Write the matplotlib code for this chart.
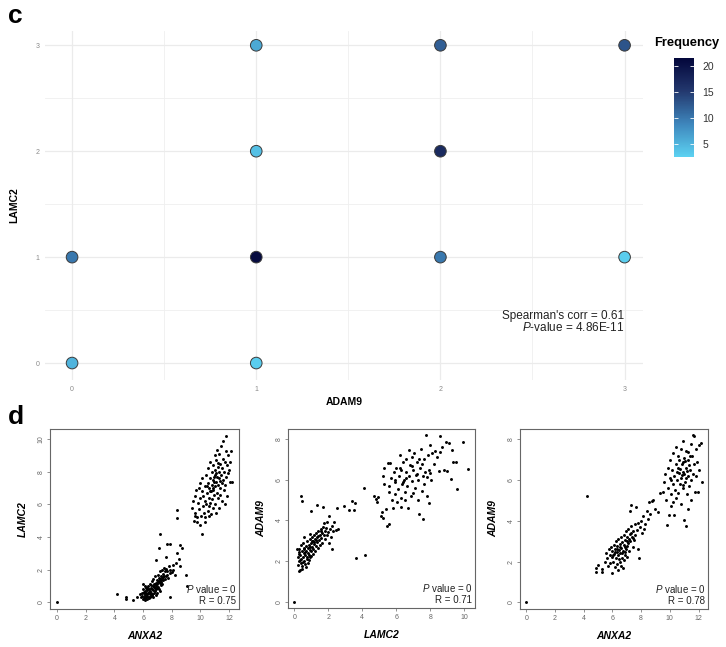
import numpy as np
import matplotlib
matplotlib.use('Agg')
import matplotlib.pyplot as plt
from matplotlib.colors import LinearSegmentedColormap, Normalize
from matplotlib.cm import ScalarMappable

plt.rcParams['font.family'] = ['Liberation Sans', 'DejaVu Sans']
plt.rcParams['mathtext.fontset'] = 'custom'
plt.rcParams['mathtext.rm'] = 'Liberation Sans'
plt.rcParams['mathtext.it'] = 'Liberation Sans:italic'

# ---------------- panel c data ----------------
adam9_score = [0, 0, 1, 1, 1, 1, 2, 2, 2, 3, 3]
lamc2_score = [0, 1, 0, 1, 2, 3, 1, 2, 3, 1, 3]
frequency   = [5, 10, 3, 21, 4, 6, 10, 17, 12, 3, 13]
c_ticks = [0, 1, 2, 3]
cbar_ticks = [5, 10, 15, 20]
spearman_text = "Spearman's corr = 0.61"
pvalue_text = r"$\mathit{P}$-value = 4.86E-11"

# ---------------- panel d data ----------------
# d1: ANXA2 (x) vs LAMC2 (y)
d1_upper = [(9.45,5.8),(9.5,6.2),(9.55,5.0),(9.6,6.5),(9.65,5.5),(9.7,6.9),(9.75,5.2),(9.8,4.9),
            (9.82,6.1),(9.88,7.0),(9.9,5.7),(9.95,4.75),(10.0,6.4),(10.0,7.3),(10.05,5.3),(10.1,6.8),
            (10.12,4.2),(10.15,7.6),(10.2,5.9),(10.22,6.5),(10.25,5.5),(10.3,7.1),(10.32,4.9),(10.35,6.2),
            (10.4,7.8),(10.42,6.0),(10.45,6.7),(10.5,5.6),(10.5,7.3),(10.55,8.2),(10.58,6.4),(10.6,5.9),
            (10.62,7.0),(10.65,6.1),(10.7,7.6),(10.7,8.6),(10.72,5.4),(10.75,6.8),(10.78,7.2),(10.8,6.3),
            (10.8,8.0),(10.85,7.5),(10.88,5.8),(10.9,6.9),(10.9,8.4),(10.92,7.7),(10.95,6.6),(11.0,7.1),
            (11.0,9.0),(11.02,8.1),(11.05,6.0),(11.08,7.4),(11.1,5.5),(11.1,8.7),(11.12,7.9),(11.15,6.7),
            (11.18,9.35),(11.2,7.2),(11.22,8.3),(11.25,6.4),(11.28,7.6),(11.3,8.0),(11.3,5.8),(11.32,9.1),
            (11.35,7.0),(11.38,8.5),(11.4,6.6),(11.42,7.8),(11.45,9.6),(11.48,7.3),(11.5,8.2),(11.52,6.2),
            (11.55,8.8),(11.58,7.5),(11.6,9.9),(11.62,6.9),(11.65,8.0),(11.7,7.2),(11.72,8.6),(11.76,10.2),
            (11.8,7.7),(11.82,9.3),(11.85,6.5),(11.88,8.4),(11.9,7.9),(11.95,9.0),(12.0,8.1),(12.05,7.4),
            (12.1,8.6),(12.15,9.25),(12.2,7.35),(11.7,6.0),(10.3,5.2),(10.6,5.3),(9.6,5.3),(10.95,7.35),
            (11.15,7.65),(10.85,7.0),(11.05,7.8),(11.35,7.45),(10.65,6.85),(11.25,8.55),(10.45,7.15)]
d1_lower = [(5.8,0.5),(5.85,0.3),(5.9,0.6),(5.95,0.4),(6.0,0.2),(6.0,0.8),(6.02,1.1),(6.05,0.35),
            (6.08,0.55),(6.1,0.25),(6.12,0.7),(6.15,0.45),(6.18,0.3),(6.2,0.9),(6.22,0.6),(6.25,0.4),
            (6.28,0.75),(6.3,0.2),(6.32,0.55),(6.35,1.0),(6.38,0.65),(6.4,0.35),(6.42,0.8),(6.45,0.5),
            (6.48,1.15),(6.5,0.7),(6.52,0.4),(6.55,0.9),(6.58,0.6),(6.6,1.3),(6.62,0.8),(6.65,0.5),
            (6.68,1.0),(6.7,0.75),(6.72,1.4),(6.75,0.6),(6.78,1.1),(6.8,0.9),(6.82,1.6),(6.85,0.7),
            (6.88,1.2),(6.9,1.0),(6.92,0.45),(6.95,1.35),(6.98,0.85),(7.0,1.1),(7.02,1.7),(7.05,0.95),
            (7.08,1.3),(7.1,1.5),(7.12,0.8),(7.15,1.2),(7.18,1.9),(7.2,1.4),(7.22,1.05),(7.25,1.6),
            (7.28,1.25),(7.3,2.0),(7.32,1.5),(7.35,1.1),(7.38,1.75),(7.4,1.35),(7.45,2.1),(7.48,1.6),
            (7.5,1.9),(7.55,1.45),(7.6,2.05),(7.65,1.7),(7.7,1.9),(7.75,1.5),(7.8,2.2),(7.85,1.8),
            (7.9,1.95),(8.0,1.85),(8.1,2.0),(8.2,1.7),(6.1,1.0),(6.3,0.5),(6.5,0.3),(6.7,0.35),
            (6.95,0.6),(7.15,0.7),(6.05,0.65),(6.25,0.85),(6.45,0.6),(6.6,0.45),(6.75,0.95),(6.85,1.15),
            (7.05,1.25),(7.25,1.35),(6.15,0.15),(6.4,0.25),(6.55,1.05),(6.9,0.8),(7.4,1.55),(7.6,1.6)]
d1_outliers = [(0,0),(4.2,0.5),(4.8,0.2),(4.8,0.3),(5.3,0.15),(5.6,0.35),(6.9,2.6),(7.1,3.3),
               (7.2,4.2),(7.6,2.8),(7.7,3.6),(7.9,3.55),(8.4,3.0),(8.55,3.5),(8.7,3.35),(8.4,5.65),
               (8.4,5.15),(8.3,2.4),(8.5,2.65),(8.55,2.2),(7.85,0.3),(9.0,1.7),(9.1,1.0),(8.1,2.3)]

# d2: LAMC2 (x) vs ADAM9 (y)
d2_lower = [(0.2,1.8),(0.22,2.2),(0.25,1.5),(0.28,2.6),(0.3,2.0),(0.32,1.55),(0.35,2.3),(0.38,1.9),
            (0.4,2.8),(0.42,2.1),(0.45,2.5),(0.48,1.75),(0.5,2.2),(0.52,2.9),(0.55,2.4),(0.58,2.0),
            (0.6,2.6),(0.62,1.85),(0.65,2.3),(0.68,2.75),(0.7,2.5),(0.72,2.1),(0.75,3.0),(0.78,2.4),
            (0.8,2.65),(0.82,1.9),(0.85,2.8),(0.88,2.3),(0.9,3.1),(0.92,2.55),(0.95,2.2),(0.98,2.9),
            (1.0,2.5),(1.02,3.2),(1.05,2.7),(1.08,2.35),(1.1,3.0),(1.12,2.6),(1.15,3.3),(1.18,2.85),
            (1.2,2.5),(1.22,3.1),(1.25,2.75),(1.3,3.4),(1.32,2.95),(1.35,3.2),(1.4,2.65),(1.42,3.5),
            (1.45,3.05),(1.5,3.3),(1.52,2.8),(1.55,3.6),(1.6,3.15),(1.62,3.4),(1.65,2.9),(1.7,3.7),
            (1.72,3.3),(1.75,3.85),(1.8,3.5),(1.82,3.1),(1.85,3.65),(1.9,3.3),(1.95,3.9),(2.0,3.45),
            (2.02,2.9),(2.05,4.2),(2.1,3.6),(2.15,3.2),(2.2,3.75),(2.3,3.5),(2.35,3.9),(2.45,3.55),
            (0.3,2.45),(0.6,3.2),(0.15,2.6),(0.45,1.6),(0.7,1.7),(0.55,2.65),(0.85,2.05),(1.0,2.25),
            (0.35,2.05),(0.65,2.45),(0.9,2.7),(1.15,2.95),(1.3,3.05),(0.5,1.95),(0.75,2.2),(1.05,3.0),
            (0.25,2.35),(0.95,3.35),(1.4,3.25),(1.6,3.5)]
d2_outliers = [(0,0),(0.4,5.2),(0.45,4.95),(1.0,4.45),(1.35,4.75),(1.7,4.65),(2.5,4.6),(2.95,4.7),
               (3.4,4.95),(3.5,4.5),(3.55,4.85),(3.2,4.5),(3.65,2.15),(4.15,2.3),(4.1,5.6),(4.7,5.2),
               (4.8,5.05),(4.85,4.9),(4.9,5.15),(2.6,3.6),(2.2,2.6)]
d2_upper = [(5.1,4.2),(5.15,4.4),(5.2,4.1),(5.2,6.2),(5.3,5.8),(5.3,6.6),(5.4,4.55),(5.45,3.75),
            (5.5,6.85),(5.55,5.4),(5.6,3.8),(5.6,5.7),(5.65,6.85),(5.7,6.1),(5.75,5.0),(5.8,4.6),
            (5.85,6.4),(5.9,5.3),(5.95,5.9),(6.0,6.6),(6.05,4.9),(6.1,5.55),(6.15,6.2),(6.2,7.2),
            (6.25,5.1),(6.3,6.5),(6.3,4.65),(6.35,5.8),(6.4,6.9),(6.45,6.0),(6.5,5.4),(6.55,6.4),
            (6.6,7.0),(6.65,5.7),(6.7,4.6),(6.75,6.2),(6.8,6.75),(6.85,5.2),(6.9,7.1),(6.95,5.95),
            (7.0,6.5),(7.05,7.3),(7.1,5.6),(7.15,6.25),(7.2,6.9),(7.25,5.0),(7.3,6.0),(7.35,4.3),
            (7.4,6.6),(7.45,7.5),(7.5,5.45),(7.55,6.2),(7.6,4.05),(7.62,7.0),(7.65,5.8),(7.7,6.4),
            (7.75,8.2),(7.8,5.2),(7.85,7.2),(7.9,4.85),(7.95,6.5),(8.0,7.7),(8.05,6.0),(8.1,7.3),
            (8.2,6.8),(8.3,7.4),(8.4,7.1),(8.5,6.45),(8.55,8.15),(8.6,7.35),(8.7,7.6),(8.8,6.5),
            (8.9,7.85),(9.0,6.45),(9.1,7.8),(9.2,6.05),(9.3,7.45),(9.35,6.9),(9.5,6.9),(9.6,5.55),
            (9.9,7.85),(10.2,6.55),(6.6,6.1),(6.95,6.7),(7.2,6.3),(6.4,5.9),(7.5,6.8),(7.8,6.15),
            (6.2,6.6),(7.0,5.35),(6.75,7.45),(7.35,7.0),(8.0,6.35),(5.9,6.0),(6.5,5.0)]

# d3: ANXA2 (x) vs ADAM9 (y)
d3_lower = [(4.85,1.5),(4.85,1.7),(5.0,1.85),(5.3,1.5),(5.3,1.65),(5.5,2.0),(5.55,2.4),(5.6,2.15),
            (5.7,1.8),(5.75,2.6),(5.8,2.3),(5.85,1.95),(5.9,2.7),(5.95,2.2),(6.0,1.45),(6.0,2.5),
            (6.05,2.0),(6.1,2.8),(6.12,2.35),(6.15,1.75),(6.2,2.6),(6.22,2.15),(6.25,3.0),(6.3,2.45),
            (6.32,1.9),(6.35,2.75),(6.4,2.3),(6.42,3.1),(6.45,2.55),(6.5,2.0),(6.5,2.85),(6.55,2.4),
            (6.6,3.2),(6.62,2.65),(6.65,2.15),(6.7,2.95),(6.72,1.7),(6.75,2.5),(6.8,3.3),(6.82,2.8),
            (6.85,2.3),(6.9,3.05),(6.92,2.6),(6.95,3.5),(7.0,2.75),(7.02,2.2),(7.05,3.2),(7.1,2.9),
            (7.12,3.6),(7.15,2.5),(7.2,3.35),(7.22,4.5),(7.25,3.0),(7.3,3.75),(7.32,4.75),(7.35,3.2),
            (7.4,2.7),(7.45,3.5),(7.5,3.05),(7.55,3.85),(7.6,3.3),(7.65,4.65),(7.7,3.55),(7.75,2.6),
            (7.8,3.9),(7.85,2.15),(7.9,3.7),(8.0,4.0),(8.05,3.4),(8.15,4.25),(8.2,3.6),(8.3,3.85),
            (8.4,4.5),(8.5,4.1),(8.55,4.9),(8.65,4.35),(8.75,4.95),(8.85,5.0),(9.0,4.6),(9.2,4.45),
            (9.35,5.35),(6.4,1.6),(6.6,1.8),(6.3,2.6),(6.55,2.7),(6.7,2.4),(6.85,2.7),(7.0,3.0),
            (7.15,3.1),(6.15,2.45),(6.45,2.1),(6.8,2.05),(7.3,3.4),(7.45,3.15),(6.05,2.3),(6.9,2.45)]
d3_upper = [(9.5,5.4),(9.6,5.9),(9.65,6.3),(9.7,5.0),(9.8,3.8),(9.85,6.6),(9.9,5.6),(9.95,4.3),
            (10.0,6.1),(10.0,7.0),(10.05,4.7),(10.1,5.3),(10.15,6.5),(10.2,5.8),(10.2,7.3),(10.25,4.9),
            (10.3,6.2),(10.35,5.5),(10.4,6.8),(10.4,7.6),(10.45,5.1),(10.5,6.0),(10.55,6.6),(10.6,5.35),
            (10.6,7.2),(10.65,6.35),(10.7,5.8),(10.75,7.5),(10.8,6.1),(10.8,4.8),(10.85,6.8),(10.9,5.6),
            (10.92,7.9),(10.95,6.4),(11.0,4.05),(11.0,7.1),(11.05,5.9),(11.1,6.6),(11.1,3.75),(11.15,7.4),
            (11.2,5.3),(11.25,6.2),(11.3,7.0),(11.3,4.6),(11.35,5.7),(11.4,6.5),(11.45,7.75),(11.5,6.0),
            (11.5,5.0),(11.55,7.2),(11.6,8.2),(11.65,6.8),(11.7,8.15),(11.75,5.4),(11.8,7.5),(11.85,6.2),
            (11.9,6.9),(12.0,7.7),(12.05,6.5),(12.2,7.8),(12.25,5.9),(11.95,5.4),(10.3,4.3),(10.7,6.55),
            (10.85,6.25),(11.05,6.95),(11.2,6.45),(10.5,6.4),(11.35,6.75),(10.95,5.75),(11.15,6.1),(10.65,7.0),
            (11.4,7.2),(11.6,6.3),(10.1,6.0),(11.25,7.35),(10.9,6.9),(11.0,6.3)]
d3_outliers = [(0,0),(4.2,5.2)]

# ---------------- figure ----------------
fig = plt.figure(figsize=(7.26, 6.47), dpi=100)
W, H = 726.0, 647.0

def frect(x0, y0, x1, y1):
    return [x0 / W, 1 - y1 / H, (x1 - x0) / W, (y1 - y0) / H]

cmap = LinearSegmentedColormap.from_list('freq', ['#5CD2F2', '#3E86BC', '#23386E', '#03063A'])
norm = Normalize(vmin=min(frequency) - 0.5, vmax=max(frequency) + 0.6)

# panel c
ax = fig.add_axes(frect(45, 31, 643, 380))
ax.set_xlim(-0.147, 3.1)
ax.set_ylim(-0.16, 3.135)
for v in [0.5, 1.5, 2.5]:
    ax.axvline(v, color='#EFEFEF', lw=0.6, zorder=0)
    ax.axhline(v, color='#EFEFEF', lw=0.6, zorder=0)
for v in c_ticks:
    ax.axvline(v, color='#EBEBEB', lw=0.9, zorder=0)
    ax.axhline(v, color='#EBEBEB', lw=0.9, zorder=0)
ax.scatter(adam9_score, lamc2_score, c=frequency, cmap=cmap, norm=norm, s=70,
           edgecolors='#3A3A3A', linewidths=0.7, zorder=3)
ax.set_xticks(c_ticks)
ax.set_yticks(c_ticks)
ax.tick_params(length=0, labelsize=5, colors='#8A8A8A', pad=4)
for s in ax.spines.values():
    s.set_visible(False)
ax.set_xlabel('ADAM9', fontsize=7.5, fontweight='bold', labelpad=3)
ax.set_ylabel('LAMC2', fontsize=7.5, fontweight='bold', labelpad=12)
ax.text(3.0, 0.445, spearman_text, ha='right', va='center', fontsize=8.5, color='#222222')
ax.text(3.0, 0.34, pvalue_text, ha='right', va='center', fontsize=8.5, color='#222222')

# colorbar
cax = fig.add_axes(frect(674, 58, 694, 157))
cb = fig.colorbar(ScalarMappable(norm=norm, cmap=cmap), cax=cax)
cb.outline.set_visible(False)
cb.set_ticks(cbar_ticks)
cax.tick_params(direction='in', color='white', length=3, width=0.6, left=True, right=True,
                labelleft=False, labelright=True, labelsize=7.5, labelcolor='#333333', pad=6)
fig.text(654 / W, 1 - 43 / H, 'Frequency', fontsize=9.3, fontweight='bold', va='center', ha='left')

fig.text(8 / W, 1 - 23 / H, 'c', fontsize=19, fontweight='bold', va='baseline')
fig.text(8 / W, 1 - 424 / H, 'd', fontsize=19, fontweight='bold', va='baseline')

def rpanel(rect, groups, xlim, ylim, xticks, yticks, xlabel, ylabel, rtext):
    a = fig.add_axes(rect)
    for g in groups:
        arr = np.array(g)
        a.scatter(arr[:, 0], arr[:, 1], s=4.5, c='black', linewidths=0, zorder=2)
    a.set_xlim(xlim)
    a.set_ylim(ylim)
    a.set_xticks(xticks)
    a.set_yticks(yticks)
    a.tick_params(labelsize=5, length=2, width=0.5, pad=2, colors='#666666')
    for lab in a.get_yticklabels():
        lab.set_rotation(90)
        lab.set_va('center')
    for s in a.spines.values():
        s.set_color('#666666')
        s.set_linewidth(0.8)
    a.set_xlabel(xlabel, fontsize=7.5, fontweight='bold', fontstyle='italic', labelpad=7)
    a.set_ylabel(ylabel, fontsize=7.5, fontweight='bold', fontstyle='italic', labelpad=7)
    a.text(0.985, 0.11, r'$\mathit{P}$ value = 0', transform=a.transAxes, ha='right',
           va='center', fontsize=7, color='#222222')
    a.text(0.985, 0.045, rtext, transform=a.transAxes, ha='right', va='center',
           fontsize=7, color='#222222')
    return a

rpanel(frect(50, 429, 239, 609), [d1_upper, d1_lower, d1_outliers], (-0.5, 12.7), (-0.41, 10.62),
       [0, 2, 4, 6, 8, 10, 12], [0, 2, 4, 6, 8, 10], 'ANXA2', 'LAMC2', 'R = 0.75')
rpanel(frect(288, 429, 475, 608), [d2_lower, d2_upper, d2_outliers], (-0.37, 10.63), (-0.31, 8.5),
       [0, 2, 4, 6, 8, 10], [0, 2, 4, 6, 8], 'LAMC2', 'ADAM9', 'R = 0.71')
rpanel(frect(520, 429, 708, 609), [d3_lower, d3_upper, d3_outliers], (-0.44, 12.66), (-0.33, 8.5),
       [0, 2, 4, 6, 8, 10, 12], [0, 2, 4, 6, 8], 'ANXA2', 'ADAM9', 'R = 0.78')

fig.savefig('out.png', dpi=100)
